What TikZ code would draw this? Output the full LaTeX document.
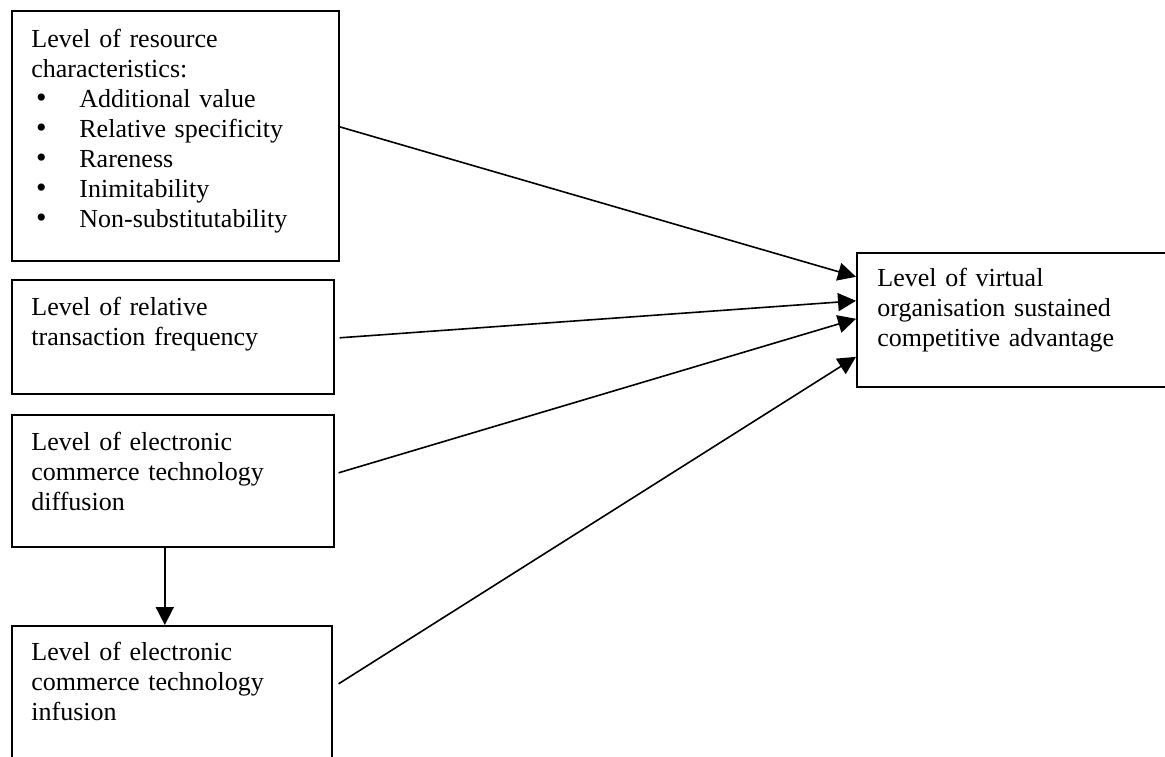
\documentclass[tikz,border=0pt]{standalone}
\usepackage{fontspec}
\setmainfont{Liberation Serif}
\usepackage{tikz}
\usetikzlibrary{
	arrows.meta
}
\tikzset{
	box/.style={draw, line width=0.8pt, inner sep=0pt, anchor=north west},
	txt/.style={anchor=north west, inner sep=0pt, text width=150pt, align=left,
		font=\fontsize{13}{15}\selectfont},
	arr/.style={line width=0.8pt, -{Triangle[length=9pt, width=9pt]}}
}
\newcommand{\bpoint}[1]{\hspace*{2.3pt}\makebox[21.7pt][l]{\smash{\raisebox{-0.3pt}{\fontsize{15}{15}\selectfont\textbullet}}}#1}

\begin{document}
\begin{tikzpicture}[x=0.5pt, y=-0.5pt]
		\useasboundingbox (0,0) rectangle (1165,756);
		% left column
		\node[box, minimum width=163.5pt, minimum height=125pt] (res) at (11,10) {};
		\node[txt] (restxt) at ([xshift=10pt, yshift=-9.3pt]res.north west) 
		{Level of resource\\characteristics:\\\bpoint{Additional value}\\\bpoint{Relative specificity}\\\bpoint{Rareness}\\\bpoint{Inimitability}\\\bpoint{Non-substitutability}};
		\node[box, minimum width=161pt, minimum height=57pt] (freq) at (11,279) {};
		\node[txt] (freqtxt) at ([xshift=10pt, yshift=-8.8pt]freq.north west) 
		{Level of relative\\transaction frequency};
		\node[box, minimum width=161pt, minimum height=66pt] (diff) at (11,414) {};
		\node[txt] (difftxt) at ([xshift=10pt, yshift=-8.8pt]diff.north west) 
		{Level of electronic\\commerce technology\\diffusion};
		\node[box, minimum width=160pt, minimum height=70pt] (infu) at (11,625) {};
		\node[txt] (infutxt) at ([xshift=10pt, yshift=-8.5pt]infu.north west) 
		{Level of electronic\\commerce technology\\infusion};
		% outcome
		\node[box, minimum width=165pt, minimum height=67pt] (vosca) at (856,252) {};
		\node[txt] (voscatxt) at ([xshift=10.5pt, yshift=-8pt]vosca.north west) 
		{Level of virtual\\organisation sustained\\competitive advantage};
		% links
		\draw[arr] ([yshift=4.5pt]res.east) -- ([yshift=21.5pt]vosca.west);
		\draw[arr] ([xshift=2.5pt, yshift=-0.5pt]freq.east) -- ([yshift=9.5pt]vosca.west);
		\draw[arr] ([xshift=2pt, yshift=4pt]diff.east) -- ([yshift=0.5pt]vosca.west);
		\draw[arr] ([xshift=3pt, yshift=6pt]infu.east) -- ([yshift=-18.5pt]vosca.west);
		\draw[arr] ([xshift=-4pt]diff.south) -- ([xshift=-3.5pt]infu.north);
	\end{tikzpicture}
\end{document}
